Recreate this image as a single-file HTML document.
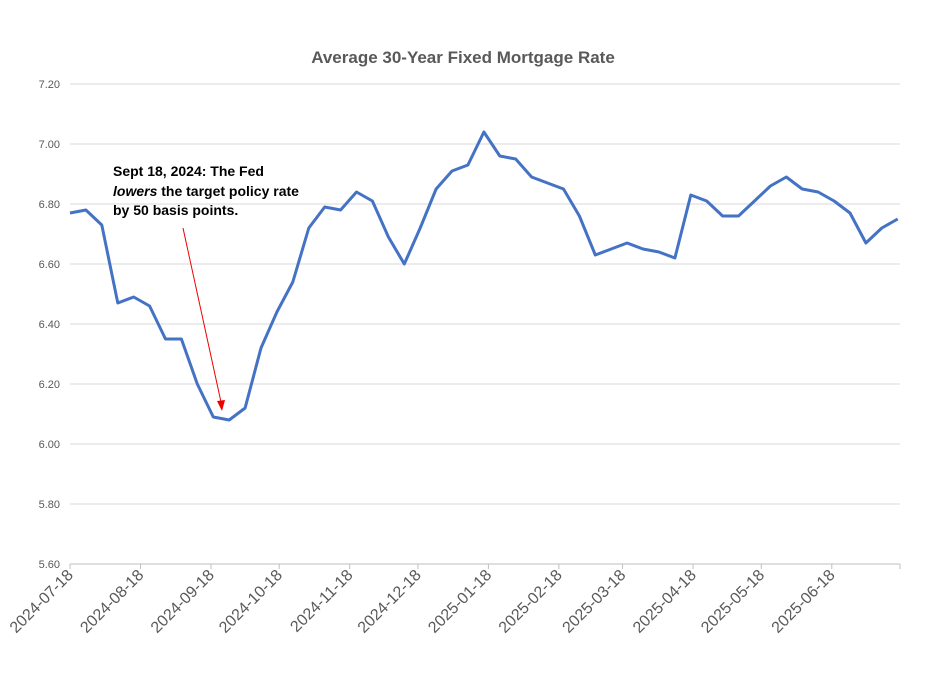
<!DOCTYPE html>
<html><head><meta charset="utf-8"><style>
body{margin:0;background:#fff;font-family:"Liberation Sans",sans-serif}
svg{display:block}
</style></head><body>
<svg id="chart" width="926" height="684" xmlns="http://www.w3.org/2000/svg">
<rect width="926" height="684" fill="#fff"/>
<text x="463" y="63" text-anchor="middle" font-size="17" font-weight="bold" fill="#595959" font-family="Liberation Sans, sans-serif">Average 30-Year Fixed Mortgage Rate</text>
<g id="grid"></g><g id="yticks"></g><g id="xticks"></g><g id="series"></g>
<g font-size="14" font-weight="bold" fill="#000" font-family="Liberation Sans, sans-serif">
<text x="113" y="176">Sept 18, 2024: The Fed</text>
<text x="113" y="196"><tspan font-style="italic">lowers</tspan> the target policy rate</text>
<text x="113" y="215">by 50 basis points.</text>
</g>
<line x1="183" y1="228" x2="221" y2="402" stroke="#e00" stroke-width="1"/>
<polygon points="222,411 217,401 225,400" fill="#e00"/>
</svg>
<script>
const values=[6.77,6.78,6.73,6.47,6.49,6.46,6.35,6.35,6.20,6.09,6.08,6.12,6.32,6.44,6.54,6.72,6.79,6.78,6.84,6.81,6.69,6.60,6.72,6.85,6.91,6.93,7.04,6.96,6.95,6.89,6.87,6.85,6.76,6.63,6.65,6.67,6.65,6.64,6.62,6.83,6.81,6.76,6.76,6.81,6.86,6.89,6.85,6.84,6.81,6.77,6.67,6.72,6.75];
const startDate="2024-07-18";
const yTicks=[5.60,5.80,6.00,6.20,6.40,6.60,6.80,7.00,7.20];
const xTickLabels=["2024-07-18","2024-08-18","2024-09-18","2024-10-18","2024-11-18","2024-12-18","2025-01-18","2025-02-18","2025-03-18","2025-04-18","2025-05-18","2025-06-18"];
const NS="http://www.w3.org/2000/svg";
const x0=70,x1=900,y0=564,y1=84;
const t0=Date.parse(startDate+"T00:00:00Z");
const tEnd=Date.parse("2025-07-18T00:00:00Z");
function xs(t){return x0+(t-t0)/(tEnd-t0)*(x1-x0);}
function ys(v){return y0-(v-5.6)/(7.2-5.6)*(y0-y1);}
function mk(tag,attrs,parent){const e=document.createElementNS(NS,tag);for(const k in attrs)e.setAttribute(k,attrs[k]);parent.appendChild(e);return e;}
const grid=document.getElementById('grid'),yt=document.getElementById('yticks'),xt=document.getElementById('xticks'),ser=document.getElementById('series');
yTicks.forEach(v=>{
 const l=mk('line',{x1:x0,x2:x1,y1:ys(v),y2:ys(v),stroke:v===5.6?'#bfbfbf':'#d9d9d9','stroke-width':1},grid);
 
 
 const t=mk('text',{x:60,y:ys(v)+4,'text-anchor':'end','font-size':11,fill:'#595959'},yt);
 t.textContent=v.toFixed(2);
 
 
});
xTickLabels.concat(["2025-07-18"]).forEach((d,i)=>{
 const x=xs(Date.parse(d+"T00:00:00Z"));
 const l=mk('line',{x1:x,x2:x,y1:y0,y2:y0+5,stroke:'#bfbfbf'},xt);
 
 
 if(i<xTickLabels.length){
  const t=mk('text',{x:x+4,y:y0+12,'text-anchor':'end','font-size':16,fill:'#595959',transform:`rotate(-45 ${x+4} ${y0+12})`},xt);
  t.textContent=d;
  
  
 }
});
const pts=values.map((v,i)=>xs(t0+i*7*86400000).toFixed(1)+","+ys(v).toFixed(1)).join(" ");
const pl=mk('polyline',{points:pts,fill:'none',stroke:'#4472c4','stroke-width':3,'stroke-linejoin':'round'},ser);


</script>
</body></html>
